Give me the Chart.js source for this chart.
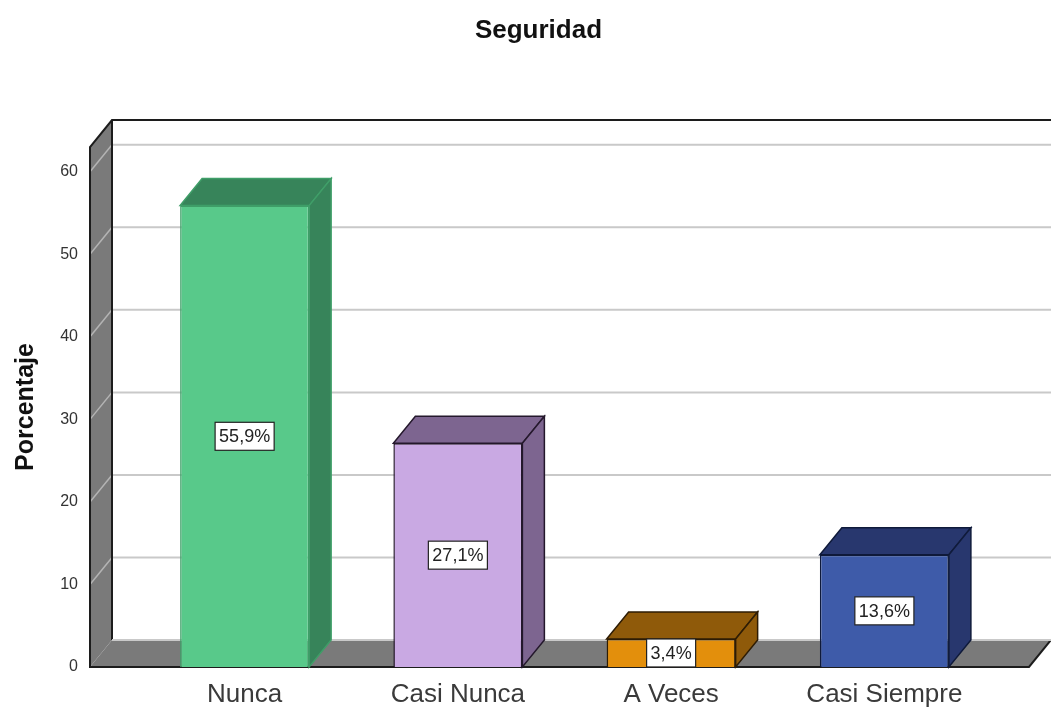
<!DOCTYPE html>
<html>
<head>
<meta charset="utf-8">
<title>Seguridad</title>
<script src="https://cdn.jsdelivr.net/npm/chart.js@4"></script>
<style>
  html, body { margin: 0; padding: 0; background: #fff; }
  canvas { display: block; }
</style>
</head>
<body>
<canvas id="chart" width="1051" height="708"></canvas>
<script>
const categories = ['Nunca', 'Casi Nunca', 'A Veces', 'Casi Siempre'];
const percentages = [55.9, 27.1, 3.4, 13.6];

const frontColors = ['#58c98a', '#c9a9e3', '#e38f0c', '#3e5ba9'];
const sideColors = ['#37845a', '#7d6590', '#8f5a0a', '#28376e'];
const edgeColors = ['#3f9e68', '#24182c', '#2e1c04', '#0f1a3a'];

// oblique offset of the back plane
const DX = 22;
const DY = -27;
const FONT = '"Liberation Sans", Arial, sans-serif';

function poly(ctx, pts, fill, stroke, lw) {
  ctx.beginPath();
  pts.forEach((p, i) => i ? ctx.lineTo(p[0], p[1]) : ctx.moveTo(p[0], p[1]));
  ctx.closePath();
  if (fill) { ctx.fillStyle = fill; ctx.fill(); }
  if (stroke) { ctx.strokeStyle = stroke; ctx.lineWidth = lw || 1; ctx.stroke(); }
}

const box3d = {
  id: 'box3d',
  beforeDatasetsDraw(chart) {
    const ctx = chart.ctx;
    const y = chart.scales.y;
    const left = 90;
    const right = 1029;
    const top = y.getPixelForValue(63);
    const base = y.getPixelForValue(0);
    ctx.save();

    // floor and left wall
    poly(ctx, [[left, base], [right, base], [right + DX, base + DY], [left + DX, base + DY]], '#7a7a7a');
    poly(ctx, [[left, top], [left + DX, top + DY], [left + DX, base + DY], [left, base]], '#7a7a7a');

    // grid lines on back wall and left wall
    y.ticks.forEach(t => {
      if (t.value === 0) return;
      const py = y.getPixelForValue(t.value);
      ctx.beginPath();
      ctx.moveTo(left + DX, py + DY);
      ctx.lineTo(1051, py + DY);
      ctx.strokeStyle = '#c9c9c9';
      ctx.lineWidth = 2;
      ctx.stroke();
      ctx.beginPath();
      ctx.moveTo(left, py);
      ctx.lineTo(left + DX, py + DY);
      ctx.strokeStyle = '#b4b4b4';
      ctx.lineWidth = 1.5;
      ctx.stroke();
    });

    // frame
    ctx.strokeStyle = '#1c1c1c';
    ctx.lineWidth = 2;
    ctx.beginPath();
    ctx.moveTo(1051, top + DY);
    ctx.lineTo(left + DX, top + DY);
    ctx.lineTo(left, top);
    ctx.lineTo(left, base);
    ctx.lineTo(right, base);
    ctx.lineTo(right + DX, base + DY);
    ctx.moveTo(left + DX, top + DY);
    ctx.lineTo(left + DX, base + DY);
    ctx.stroke();
    ctx.strokeStyle = '#c9c9c9';
    ctx.beginPath();
    ctx.moveTo(left + DX, base + DY);
    ctx.lineTo(1051, base + DY);
    ctx.stroke();

    // top and side faces of the bars
    chart.getDatasetMeta(0).data.forEach((bar, i) => {
      const p = bar.getProps(['x', 'y', 'base', 'width'], true);
      const l = p.x - p.width / 2;
      const r = p.x + p.width / 2;
      poly(ctx, [[l, p.y], [r, p.y], [r + DX, p.y + DY], [l + DX, p.y + DY]], sideColors[i], edgeColors[i], 1.5);
      poly(ctx, [[r, p.y], [r + DX, p.y + DY], [r + DX, p.base + DY], [r, p.base]], sideColors[i], edgeColors[i], 1.5);
    });
    ctx.restore();
  },
  afterDatasetsDraw(chart) {
    const ctx = chart.ctx;
    ctx.save();
    ctx.font = '18px ' + FONT;
    ctx.textAlign = 'center';
    ctx.textBaseline = 'middle';
    chart.getDatasetMeta(0).data.forEach((bar, i) => {
      const p = bar.getProps(['x', 'y', 'base'], true);
      const text = percentages[i].toFixed(1).replace('.', ',') + '%';
      const w = ctx.measureText(text).width + 8;
      const h = 28;
      const cy = (p.y + p.base) / 2;
      ctx.fillStyle = '#fff';
      ctx.strokeStyle = '#222';
      ctx.lineWidth = 1.2;
      ctx.fillRect(p.x - w / 2, cy - h / 2, w, h);
      ctx.strokeRect(p.x - w / 2, cy - h / 2, w, h);
      ctx.fillStyle = '#222';
      ctx.fillText(text, p.x, cy + 1);
    });
    ctx.restore();
  }
};

new Chart(document.getElementById('chart'), {
  type: 'bar',
  data: {
    labels: categories,
    datasets: [{
      label: 'Porcentaje',
      data: percentages,
      backgroundColor: frontColors,
      borderColor: edgeColors,
      borderWidth: 1.5,
      categoryPercentage: 1,
      barPercentage: 0.605
    }]
  },
  plugins: [box3d],
  options: {
    responsive: false,
    animation: false,
    layout: { padding: { left: 26, right: 0, top: 0, bottom: 0 } },
    plugins: {
      legend: { display: false },
      tooltip: { enabled: false },
      title: {
        display: true,
        text: 'Seguridad',
        color: '#111',
        font: { family: FONT, size: 26, weight: 'bold' },
        padding: { top: 15, bottom: 100.8 }
      }
    },
    scales: {
      x: {
        grid: { display: false },
        border: { display: false },
        afterFit(s) { s.height = 41; },
        ticks: {
          color: '#3a3a3a',
          font: { family: FONT, size: 26 },
          padding: 4,
          autoSkip: false,
          maxRotation: 0
        }
      },
      y: {
        min: 0,
        max: 63,
        grid: { display: false },
        border: { display: false },
        afterFit(s) {
          s.width = 112;
          // the big tick padding would otherwise push the plot up
          s.paddingTop = 0;
          s.paddingBottom = 0;
        },
        title: {
          display: true,
          text: 'Porcentaje',
          color: '#111',
          font: { family: FONT, size: 25, weight: 'bold' },
          padding: { top: -15, bottom: 0 }
        },
        ticks: {
          stepSize: 10,
          includeBounds: false,
          color: '#333',
          font: { family: FONT, size: 16 },
          padding: 52
        }
      },
      // empty axis that keeps the plot clear of the right edge
      spacer: {
        position: 'right',
        grid: { display: false },
        border: { display: false },
        ticks: { display: false },
        afterFit(s) { s.width = 60; }
      }
    }
  }
});
</script>
</body>
</html>
